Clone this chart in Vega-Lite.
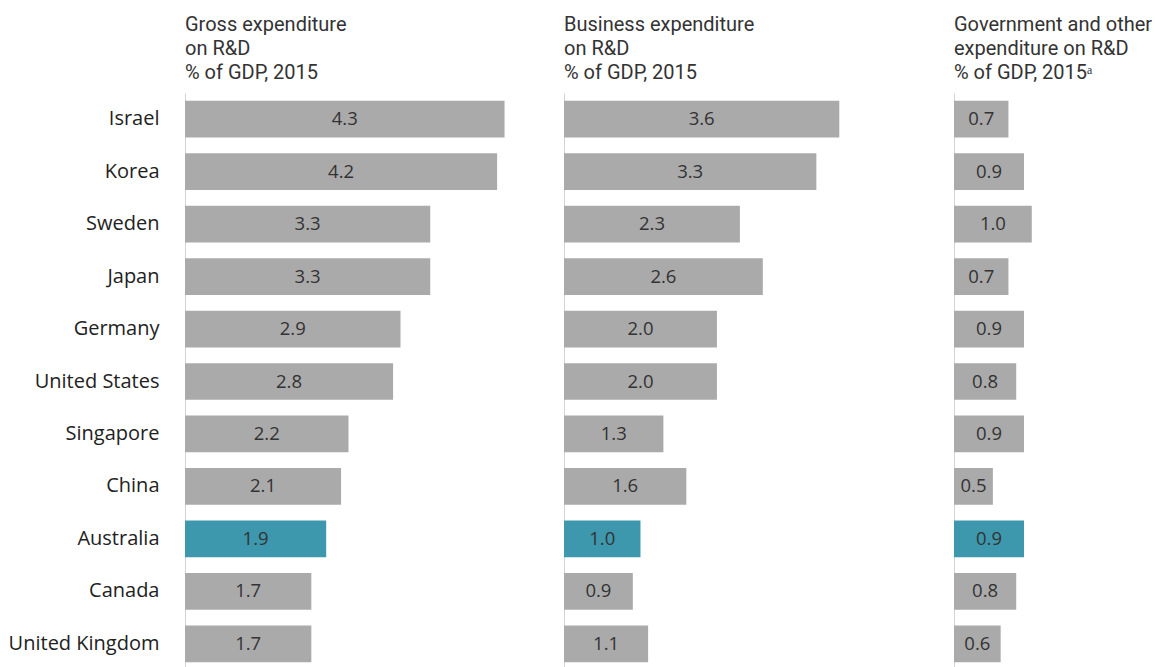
{
  "$schema": "https://vega.github.io/schema/vega-lite/v6.json",
  "background": "white",
  "padding": {"left": 8, "top": 15, "right": 0, "bottom": 0},
  "config": {
    "font": "Open Sans",
    "view": {"stroke": null},
    "title": {"anchor": "start", "frame": "group", "font": "Roboto", "fontSize": 20, "fontWeight": "normal", "color": "#333333", "lineHeight": 23.8, "offset": 10}
  },
  "data": {"values": [
    {"country": "Israel", "gross": 4.3, "business": 3.6, "gov": 0.7},
    {"country": "Korea", "gross": 4.2, "business": 3.3, "gov": 0.9},
    {"country": "Sweden", "gross": 3.3, "business": 2.3, "gov": 1.0},
    {"country": "Japan", "gross": 3.3, "business": 2.6, "gov": 0.7},
    {"country": "Germany", "gross": 2.9, "business": 2.0, "gov": 0.9},
    {"country": "United States", "gross": 2.8, "business": 2.0, "gov": 0.8},
    {"country": "Singapore", "gross": 2.2, "business": 1.3, "gov": 0.9},
    {"country": "China", "gross": 2.1, "business": 1.6, "gov": 0.5},
    {"country": "Australia", "gross": 1.9, "business": 1.0, "gov": 0.9},
    {"country": "Canada", "gross": 1.7, "business": 0.9, "gov": 0.8},
    {"country": "United Kingdom", "gross": 1.7, "business": 1.1, "gov": 0.6}
  ]},
  "spacing": 0,
  "hconcat": [
    {
      "width": 379, "height": 577,
      "title": {"text": ["Gross expenditure", "on R&D", "% of GDP, 2015"]},
      "encoding": {
        "y": {"field": "country", "type": "nominal", "sort": null, "scale": {"paddingInner": 0.3, "paddingOuter": 0.15},
          "axis": {"title": null, "ticks": false, "labelPadding": 26, "labelFontSize": 20, "labelColor": "#222222", "domainColor": "#d4d4d4", "labelFont": "Open Sans"}}
      },
      "layer": [
        {"mark": {"type": "bar"},
         "encoding": {
           "x": {"field": "gross", "type": "quantitative", "scale": {"domain": [0, 5.1], "nice": false}, "axis": null},
           "color": {"condition": {"test": "datum.country === 'Australia'", "value": "#3d98ae"}, "value": "#aaaaaa"}
         }},
        {"mark": {"type": "text", "fontSize": 18.5, "color": "#333333", "align": "center", "baseline": "middle"},
         "encoding": {
           "x": {"field": "gross", "type": "quantitative", "scale": {"domain": [0, 10.2], "nice": false}, "axis": null},
           "text": {"field": "gross", "type": "quantitative", "format": ".1f"}
         }}
      ],
      "resolve": {"scale": {"x": "independent"}}
    },
    {
      "width": 390, "height": 577,
      "title": {"text": ["Business expenditure", "on R&D", "% of GDP, 2015"]},
      "encoding": {
        "y": {"field": "country", "type": "nominal", "sort": null, "scale": {"paddingInner": 0.3, "paddingOuter": 0.15},
          "axis": {"title": null, "ticks": false, "labels": false, "domainColor": "#d4d4d4"}}
      },
      "layer": [
        {"mark": {"type": "bar"},
         "encoding": {
           "x": {"field": "business", "type": "quantitative", "scale": {"domain": [0, 5.1], "nice": false}, "axis": null},
           "color": {"condition": {"test": "datum.country === 'Australia'", "value": "#3d98ae"}, "value": "#aaaaaa"}
         }},
        {"mark": {"type": "text", "fontSize": 18.5, "color": "#333333", "align": "center", "baseline": "middle"},
         "encoding": {
           "x": {"field": "business", "type": "quantitative", "scale": {"domain": [0, 10.2], "nice": false}, "axis": null},
           "text": {"field": "business", "type": "quantitative", "format": ".1f"}
         }}
      ],
      "resolve": {"scale": {"x": "independent"}}
    },
    {
      "width": 210, "height": 577,
      "title": {"text": ["Government and other", "expenditure on R&D", "% of GDP, 2015ᵃ"]},
      "encoding": {
        "y": {"field": "country", "type": "nominal", "sort": null, "scale": {"paddingInner": 0.3, "paddingOuter": 0.15},
          "axis": {"title": null, "ticks": false, "labels": false, "domainColor": "#d4d4d4"}}
      },
      "layer": [
        {"mark": {"type": "bar"},
         "encoding": {
           "x": {"field": "gov", "type": "quantitative", "scale": {"domain": [0, 2.7], "nice": false}, "axis": null},
           "color": {"condition": {"test": "datum.country === 'Australia'", "value": "#3d98ae"}, "value": "#aaaaaa"}
         }},
        {"mark": {"type": "text", "fontSize": 18.5, "color": "#333333", "align": "center", "baseline": "middle"},
         "encoding": {
           "x": {"field": "gov", "type": "quantitative", "scale": {"domain": [0, 5.4], "nice": false}, "axis": null},
           "text": {"field": "gov", "type": "quantitative", "format": ".1f"}
         }}
      ],
      "resolve": {"scale": {"x": "independent"}}
    }
  ]
}
